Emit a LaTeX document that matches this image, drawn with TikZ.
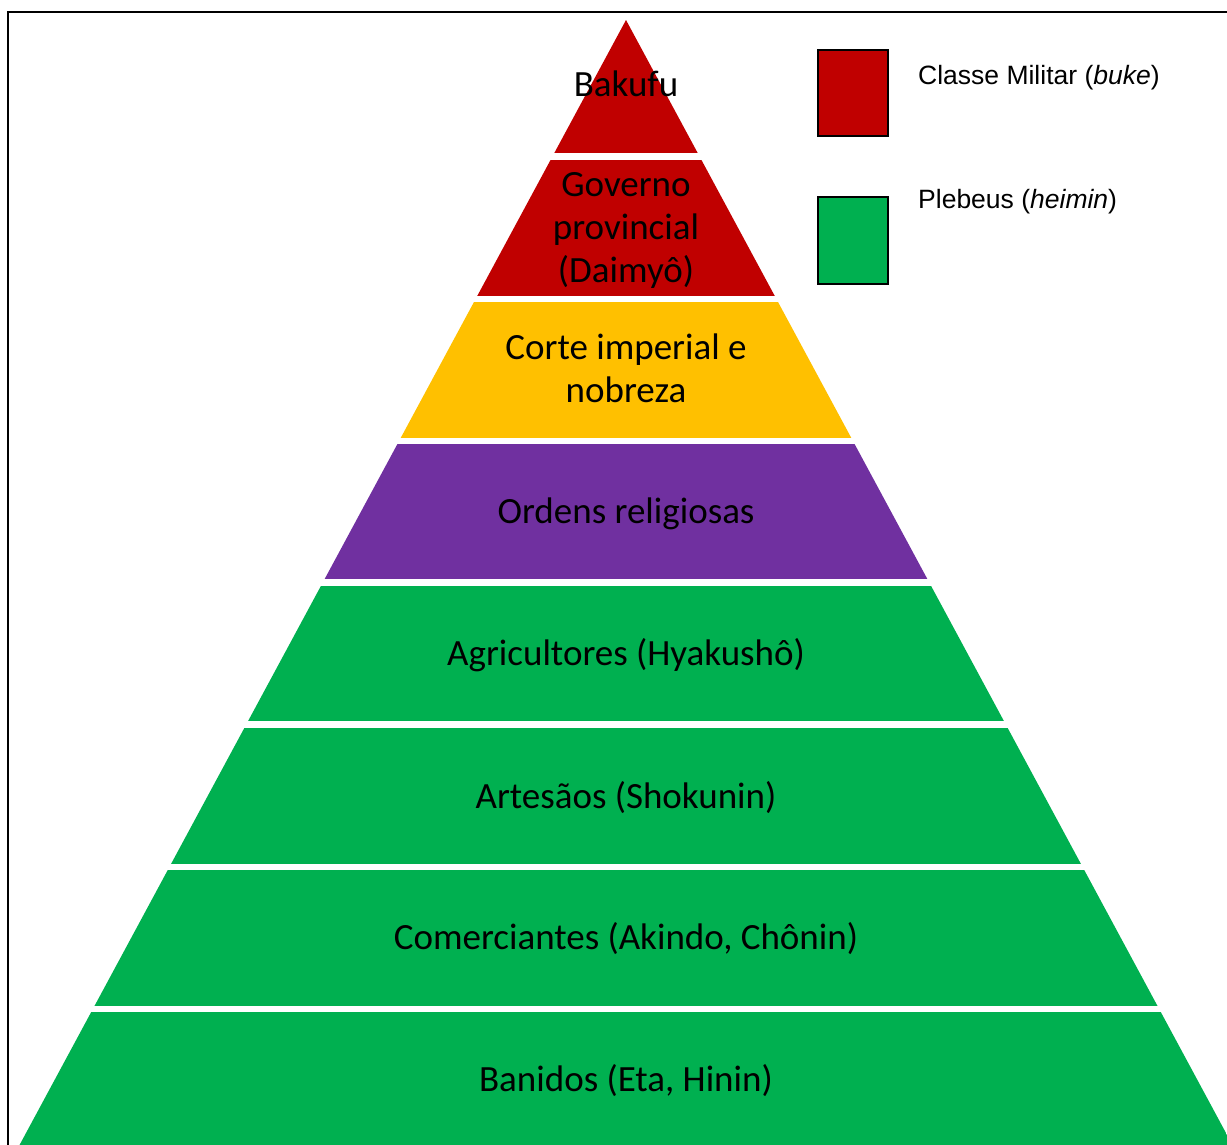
\documentclass[tikz,border=0pt]{standalone}
\usepackage{fontspec}
\setmainfont{Carlito}
\newfontfamily\legendfont{Liberation Sans}
\definecolor{buke}{HTML}{C00000}
\definecolor{nobreza}{HTML}{FFC000}
\definecolor{religiao}{HTML}{7030A0}
\definecolor{heimin}{HTML}{00B050}
\begin{document}
\begin{tikzpicture}[x=1pt,y=-1pt,
  camada/.style={font=\fontsize{37}{43}\selectfont,align=center,inner sep=0pt},
  legenda/.style={draw=black,line width=1.5pt},
  legtexto/.style={font=\legendfont\fontsize{26.5}{30}\selectfont,anchor=base west,inner sep=0pt}]
\useasboundingbox (0,0) rectangle (1227,1144);
\draw[line width=1.5pt] (8,12) rectangle (1260,1170);
% piramide
\begin{scope}
\clip (626,20) -- (-20.9,1220) -- (1272.9,1220) -- cycle;
\fill[buke]     (0,0)    rectangle (1227,153);
\fill[buke]     (0,160)  rectangle (1227,296);
\fill[nobreza]  (0,302)  rectangle (1227,438);
\fill[religiao] (0,444)  rectangle (1227,579);
\fill[heimin]   (0,586)  rectangle (1227,721);
\fill[heimin]   (0,728)  rectangle (1227,864);
\fill[heimin]   (0,870)  rectangle (1227,1006);
\fill[heimin]   (0,1012) rectangle (1227,1200);
\end{scope}
\node[camada] (bakufu)   at (626,84)   {Bakufu};
\node[camada] (daimyo)   at (626,230)  {Governo\\provincial\\(Daimyô)};
\node[camada] (corte)    at (626,368)  {Corte imperial e\\nobreza};
\node[camada] (ordens)   at (626,514)  {Ordens religiosas};
\node[camada] (agricult) at (626,655)  {Agricultores (Hyakushô)};
\node[camada] (artesaos) at (626,798)  {Artesãos (Shokunin)};
\node[camada] (comerc)   at (626,939)  {Comerciantes (Akindo, Chônin)};
\node[camada] (banidos)  at (626,1081) {Banidos (Eta, Hinin)};
% legenda
\draw[legenda,fill=buke]   (818,50)  rectangle (888,136);
\draw[legenda,fill=heimin] (818,197) rectangle (888,284);
\node[legtexto] (txtbuke)   at (918,84)  {Classe Militar (\textit{buke})};
\node[legtexto] (txtheimin) at (918,208) {Plebeus (\textit{heimin})};
\end{tikzpicture}
\end{document}
